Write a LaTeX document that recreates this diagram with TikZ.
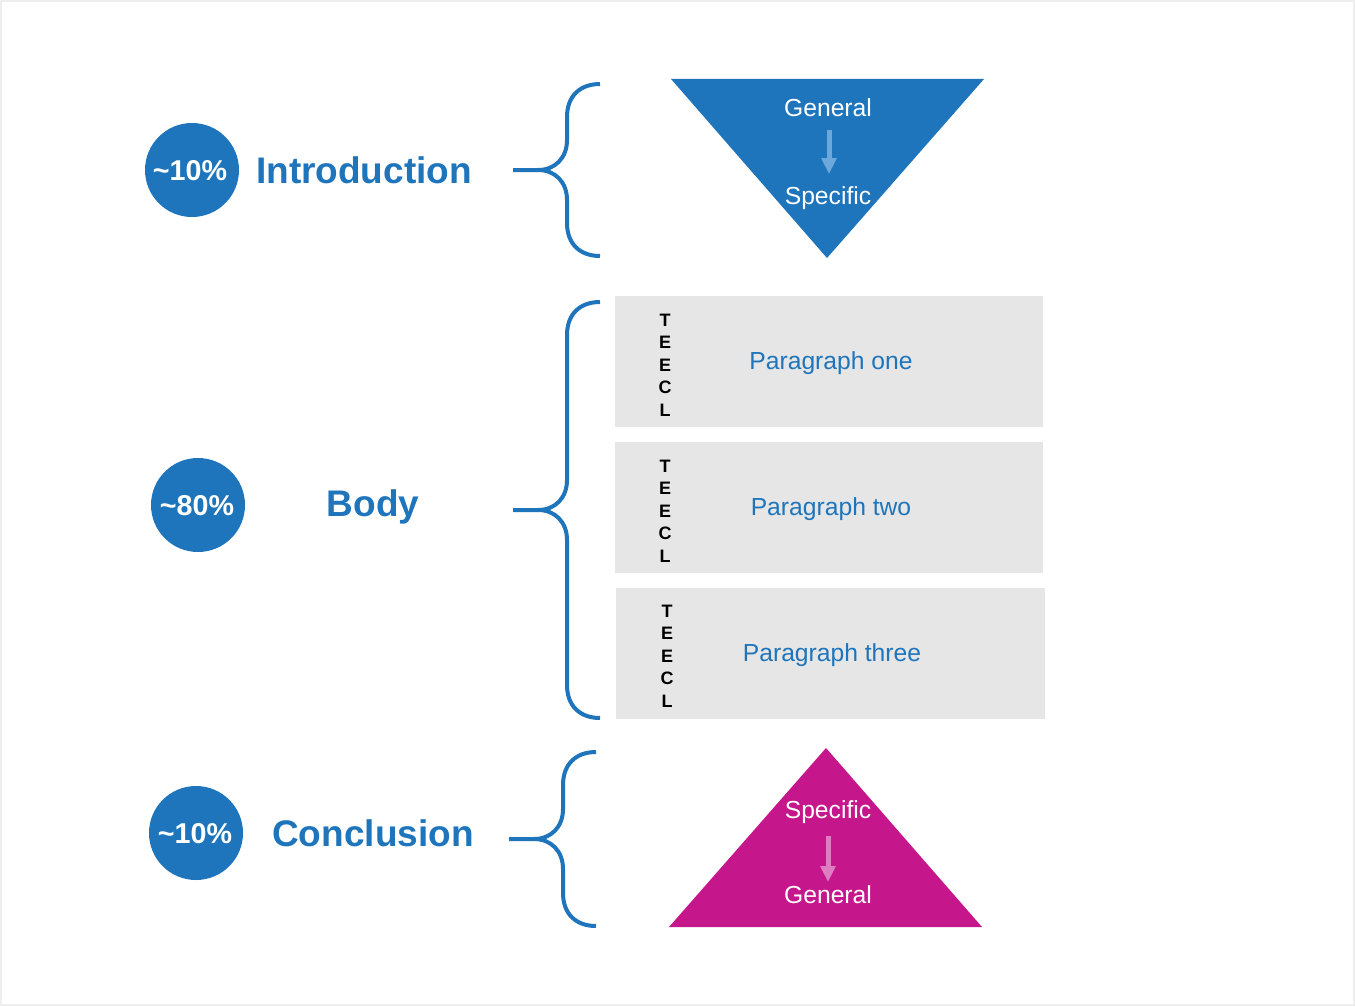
\documentclass[tikz,border=0pt]{standalone}
\usepackage{fontspec}
\setmainfont{Liberation Sans}
\usetikzlibrary{arrows.meta}
\definecolor{mblue}{HTML}{1E75BB}
\definecolor{mmag}{HTML}{C5178B}
\definecolor{mgray}{HTML}{E6E6E6}
\definecolor{frame}{HTML}{EEEEEE}
\definecolor{lblue}{HTML}{6CA8DA}
\definecolor{lpink}{HTML}{DE7EC1}
\tikzset{
  pct/.style={circle,fill=mblue,minimum size=94*0.75pt,inner sep=0pt},
  pcttext/.style={text=white,font=\fontsize{21.5}{24}\selectfont\bfseries,inner sep=0pt},
  sect/.style={text=mblue,font=\fontsize{27.75}{30}\selectfont\bfseries,inner sep=0pt},
  brace/.style={draw=mblue,line width=3pt,line cap=butt},
  tri/.style={text=white,font=\fontsize{18.5}{21}\selectfont,inner sep=0pt},
  flow/.style={line width=3.75pt,-{Triangle[width=11pt,length=12pt]}},
  parbox/.style={fill=mgray,draw=none},
  ptext/.style={text=mblue,font=\fontsize{18.5}{21}\selectfont,inner sep=0pt},
  teecl/.style={font=\fontsize{13.5}{16.9}\selectfont\bfseries,align=center,inner sep=0pt}
}
\newcommand{\bracepath}[4]{% tip x, tip y, half height, end x
  \draw[brace] (#4,#2-#3) .. controls (#4-20,#2-#3) and (#4-33,#2-#3+12) .. (#4-33,#2-#3+33)
    -- (#4-33,#2-30) .. controls (#4-33,#2-12) and (#4-45,#2) .. (#4-62,#2) -- (#1,#2);
  \draw[brace] (#4,#2+#3) .. controls (#4-20,#2+#3) and (#4-33,#2+#3-12) .. (#4-33,#2+#3-33)
    -- (#4-33,#2+30) .. controls (#4-33,#2+12) and (#4-45,#2) .. (#4-62,#2);
}
\begin{document}
\begin{tikzpicture}[x=0.75pt,y=-0.75pt]
\useasboundingbox (0,0) rectangle (1355,1006);
\fill[frame] (0,0) rectangle (1355,1006);
\fill[white] (2,2) rectangle (1353,1004);

% left column
\node[pct] (c1) at (192,170) {};
\node[pcttext] (c1t) at (190,171) {\textasciitilde10\%};
\node[sect] (s1) at (364,170) {Introduction};
\node[pct] (c2) at (198,505) {};
\node[pcttext] (c2t) at (197,506) {\textasciitilde80\%};
\node[sect] (s2) at (373,507) {Body};
\node[pct] (c3) at (196,833) {};
\node[pcttext] (c3t) at (195,834) {\textasciitilde10\%};
\node[sect] (s3) at (373,833) {Conclusion};

% braces
\bracepath{513}{170}{86}{600}
\bracepath{513}{510}{208}{600}
\bracepath{509}{839}{87}{596}

% intro triangle
\fill[mblue] (671,79) -- (984,79) -- (827,258) -- cycle;
\node[tri] (g1) at (828,108) {General};
\node[tri] (sp1) at (828,198) {Specific};
\coordinate (a1s) at (829,130);
\coordinate (a1e) at (829,174);
\draw[flow,draw=lblue,fill=lblue] (a1s) -- (a1e);

% body boxes
\fill[parbox] (615,296) rectangle (1043,427);
\fill[parbox] (615,442) rectangle (1043,573);
\fill[parbox] (616,588) rectangle (1045,719);
\node[teecl] (t1) at (665,365) {T\\E\\E\\C\\L};
\node[teecl] (t2) at (665,511) {T\\E\\E\\C\\L};
\node[teecl] (t3) at (667,656) {T\\E\\E\\C\\L};
\node[ptext] (p1) at (831,363) {Paragraph one};
\node[ptext] (p2) at (831,509) {Paragraph two};
\node[ptext] (p3) at (832,655) {Paragraph three};

% conclusion triangle
\fill[mmag] (826,748) -- (982,927) -- (669,927) -- cycle;
\node[tri] (sp2) at (828,812) {Specific};
\node[tri] (g2) at (828,895) {General};
\coordinate (a2s) at (828,836);
\coordinate (a2e) at (828,882);
\draw[flow,draw=lpink,fill=lpink] (a2s) -- (a2e);
\end{tikzpicture}
\end{document}
